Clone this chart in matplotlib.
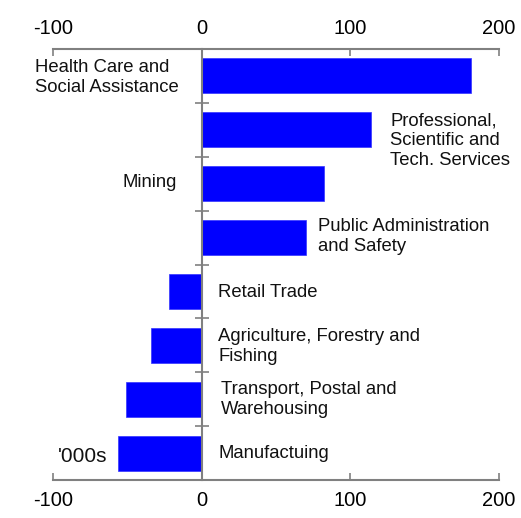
import numpy as np
import matplotlib
matplotlib.use("Agg")
import matplotlib.pyplot as plt

plt.rcParams["font.family"] = ["Liberation Sans", "DejaVu Sans"]

# ─── data ──────────────────────────────────────────────────────
categories = [
    "Health Care and\nSocial Assistance",
    "Professional,\nScientific and\nTech. Services",
    "Mining",
    "Public Administration\nand Safety",
    "Retail Trade",
    "Agriculture, Forestry and\nFishing",
    "Transport, Postal and\nWarehousing",
    "Manufactuing",
]
values = [181, 114, 82, 70, -22, -34, -51, -56]
x_ticks = [-100, 0, 100, 200]
unit_label = "'000s"

# label placement (data x, row offset)
label_x = [-112, 127, -53, 78, 11, 11, 13, 11]
label_dy = [0.03, 0.2, -0.03, -0.02, 0.02, 0.02, 0.0, 0.0]

GRAY = "#808080"
BLUE = "#0000FF"
# ───────────────────────────────────────────────────────────────

fig = plt.figure(figsize=(5.21, 5.18), dpi=100)
ax = fig.add_axes([53 / 521, 1 - 480 / 518, 446 / 521, 431 / 518])

n = len(categories)
ypos = np.arange(n)
ax.barh(ypos, values, height=0.65, color=BLUE, edgecolor="#3333ff", linewidth=0.5, zorder=2)

ax.set_xlim(-100, 200)
ax.set_ylim(n - 0.5, -0.5)

for i, (txt, lx, dy) in enumerate(zip(categories, label_x, label_dy)):
    ax.text(lx, i + dy, txt, ha="left", va="center", fontsize=13.3,
            color="#111111", linespacing=1.22)
ax.text(-97, n - 1 + 0.07, unit_label, ha="left", va="center", fontsize=15,
        color="#111111")

# spines
ax.spines["right"].set_visible(False)
ax.spines["left"].set_position(("data", 0))
for s in ["left", "top", "bottom"]:
    ax.spines[s].set_color(GRAY)
    ax.spines[s].set_linewidth(1.5)
ax.spines["left"].set_zorder(3)

ax.set_yticks(np.arange(n + 1) - 0.5)
ax.set_yticklabels([])
ax.tick_params(axis="y", direction="inout", length=10, width=1.2, color=GRAY)

ax.set_xticks(x_ticks)
ax.set_xticklabels([str(t) for t in x_ticks])
ax.tick_params(axis="x", direction="in", length=5, width=1.2, color=GRAY,
               labelsize=14.5, pad=8, top=True, labeltop=True)

fig.savefig("out.png", dpi=100)
